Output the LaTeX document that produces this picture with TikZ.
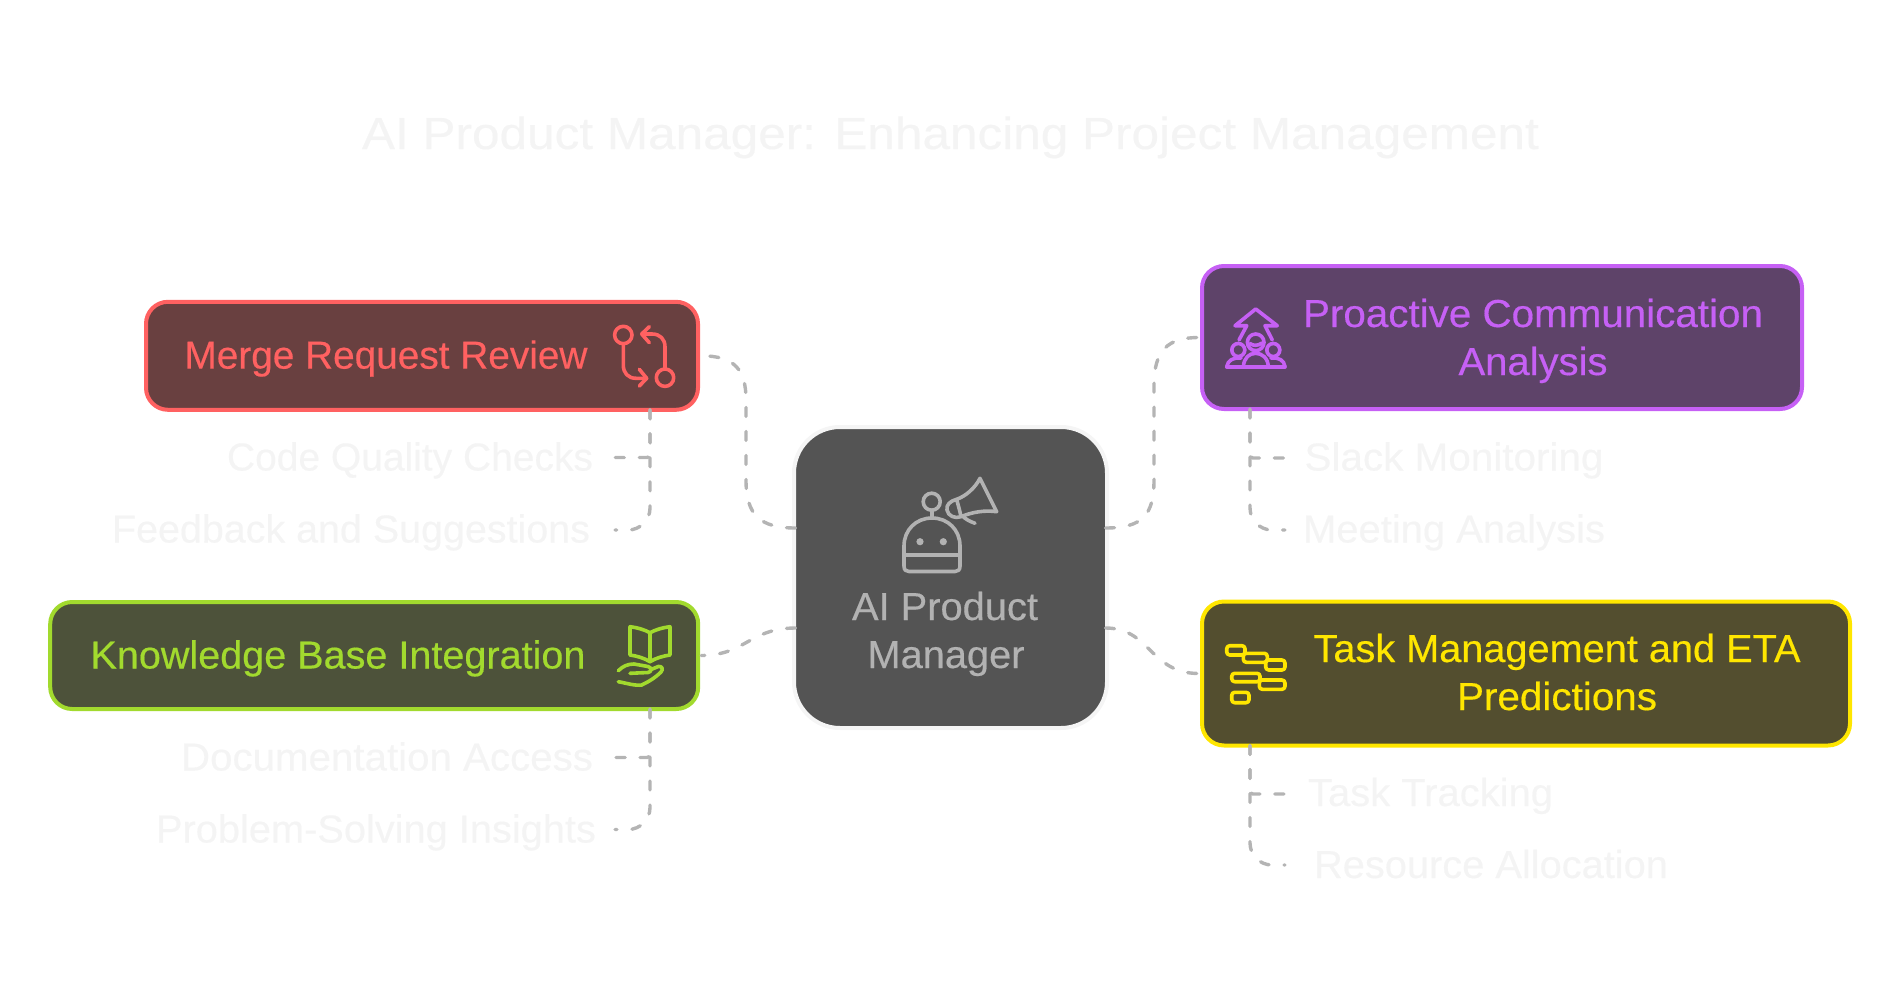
\documentclass[tikz,border=0pt]{standalone}
\usepackage{graphicx}
\usepackage{fontspec}
\setmainfont{Liberation Sans}[FakeBold=0.4]
\usetikzlibrary{calc}
\definecolor{ghost}{HTML}{F4F4F4}
\definecolor{connc}{HTML}{B4B4B4}
\definecolor{cfill}{HTML}{545454}
\definecolor{ctext}{HTML}{B2B2B2}
\definecolor{cedge}{HTML}{F5F5F5}
\definecolor{redE}{HTML}{FF6161}\definecolor{redF}{HTML}{694040}
\definecolor{purE}{HTML}{C660F5}\definecolor{purF}{HTML}{5E4369}
\definecolor{grnE}{HTML}{A2DA2E}\definecolor{grnF}{HTML}{4D523A}
\definecolor{yelE}{HTML}{FFE600}\definecolor{yelF}{HTML}{534E2F}
\newcommand\wtext[2]{\resizebox{#1pt}{\height}{#2}}
\tikzset{
  x=1pt,y=-1pt,
  every node/.style={inner sep=0pt,outer sep=0pt,font=\fontsize{39}{46}\selectfont},
  box/.style={rounded corners=22pt,line width=4pt,minimum height=1pt,minimum width=1pt},
  conn/.style={draw=connc,line width=3.4pt,dash pattern=on 9pt off 15pt,line cap=round},
  leafL/.style={anchor=base east,text=ghost},
  leafR/.style={anchor=base west,text=ghost},
  lbl/.style={anchor=base},
  icon/.style={line width=3.6pt,line cap=round,line join=round,fill=none},
}
\begin{document}
\begin{tikzpicture}
\useasboundingbox (0,0) rectangle (1900,988);
% title
\node[anchor=base,text=ghost,font=\fontsize{45}{52}\selectfont] (title) at (950.5,149) {\wtext{1177}{AI Product Manager: Enhancing Project Management}};
% main boxes
\node[box,draw=redE,fill=redF,minimum width=552pt,minimum height=108pt] (mr) at (422,355.8) {};
\node[box,draw=grnE,fill=grnF,minimum width=648pt,minimum height=107pt] (kb) at (374.2,655.5) {};
\node[box,draw=purE,fill=purF,minimum width=600pt,minimum height=143pt] (pc) at (1502,337.5) {};
\node[box,draw=yelE,fill=yelF,minimum width=648pt,minimum height=144pt] (tm) at (1526,673.5) {};
\node[box,draw=cedge,fill=cfill,rounded corners=46pt,minimum width=313pt,minimum height=301pt] (c) at (950.5,577.5) {};
\coordinate (cw1) at ([shift={(1.5pt,49.5pt)}]c.west);
\coordinate (ce1) at ([shift={(-1.5pt,49.5pt)}]c.east);
\coordinate (cw2) at ([shift={(1.5pt,-50.5pt)}]c.west);
\coordinate (ce2) at ([shift={(-1.5pt,-50.5pt)}]c.east);
% main connectors
\draw[conn] (cw1) .. controls (760,528) and (746,515) .. (746,480) -- (746,400) .. controls (746,370) and (735,355.8) .. ([xshift=3pt]mr.east);
\draw[conn] (ce1) .. controls +(37pt,0pt) and (1154,515) .. (1154,480) -- (1154,385) .. controls (1154,350) and (1168,337.5) .. ([xshift=-3pt]pc.west);
\draw[conn] (cw2) .. controls (750,628) and (745,655.5) .. ([xshift=3pt]kb.east);
\draw[conn] (ce2) .. controls +(45pt,0pt) and (1150,673.5) .. ([xshift=-3pt]tm.west);
% box labels
\node[lbl,text=redE] (mrt) at (386,368.6) {\wtext{403}{Merge Request Review}};
\node[lbl,text=grnE] (kbt) at (338,668.5) {\wtext{495}{Knowledge Base Integration}};
\node[lbl,text=purE] (pct1) at (1533,327) {\wtext{460}{Proactive Communication}};
\node[lbl,text=purE] (pct2) at (1533,375) {\wtext{149}{Analysis}};
\node[lbl,text=yelE] (tmt1) at (1557,662) {\wtext{487}{Task Management and ETA}};
\node[lbl,text=yelE] (tmt2) at (1557,710) {\wtext{200}{Predictions}};
\node[lbl,text=ctext] (ct1) at (945,620) {\wtext{186}{AI Product}};
\node[lbl,text=ctext] (ct2) at (946,668) {\wtext{157}{Manager}};
% leaves
\node[leafL] (l1) at (593,470.5) {\wtext{366}{Code Quality Checks}};
\node[leafL] (l2) at (590,542.5) {\wtext{478}{Feedback and Suggestions}};
\node[leafL] (l3) at (593,770.5) {\wtext{412}{Documentation Access}};
\node[leafL] (l4) at (596,842.5) {\wtext{440}{Problem-Solving Insights}};
\node[leafR] (r1) at (1304.5,470.5) {\wtext{299}{Slack Monitoring}};
\node[leafR] (r2) at (1303,542.5) {\wtext{302}{Meeting Analysis}};
\node[leafR] (r3) at (1308,806) {\wtext{245}{Task Tracking}};
\node[leafR] (r4) at (1314,878) {\wtext{354}{Resource Allocation}};
% connector free ends next to the leaf labels
\coordinate (l1e) at (615,457.5);
\coordinate (l2e) at (615,530);
\coordinate (l3e) at (615,757.5);
\coordinate (l4e) at (615,829.5);
\coordinate (r1e) at (1285,458);
\coordinate (r2e) at (1285,530);
\coordinate (r3e) at (1285,794);
\coordinate (r4e) at (1285,865);
% leaf connectors
\draw[conn,rounded corners=3pt] ([xshift=228pt]mr.south) |- (l1e);
\draw[conn,rounded corners=22pt] ([xshift=228pt]mr.south) |- (l2e);
\draw[conn,rounded corners=3pt] ([xshift=275.8pt]kb.south) |- (l3e);
\draw[conn,rounded corners=22pt] ([xshift=275.8pt]kb.south) |- (l4e);
\draw[conn,rounded corners=3pt] ([xshift=-252pt]pc.south) |- (r1e);
\draw[conn,rounded corners=22pt] ([xshift=-252pt]pc.south) |- (r2e);
\draw[conn,rounded corners=3pt] ([xshift=-276pt]tm.south) |- (r3e);
\draw[conn,rounded corners=22pt] ([xshift=-276pt]tm.south) |- (r4e);
% robot icon
\begin{scope}[icon,draw=ctext]
\draw (931.7,501.7) circle[radius=8.5];
\draw (931.7,510.2) -- (931.7,518);
\draw (904,546) .. controls (904,530) and (916,518) .. (932,518) .. controls (948,518) and (960,530) .. (960,546) -- (960,566) .. controls (960,570) and (958,571.5) .. (955,571.5) -- (909,571.5) .. controls (906,571.5) and (904,570) .. (904,566) -- cycle;
\draw (904,555) -- (960,555);
\fill[ctext] (920,541.7) circle[radius=3.6] (943.3,541.7) circle[radius=3.6];
\draw (956.7,499.3) .. controls (966,496) and (975,488) .. (980,478.3) -- (996.7,511.7) .. controls (985,510) and (972,512) .. (961,516.7) .. controls (955,519) and (948,516) .. (947,510) .. controls (946,505) and (950,501) .. (956.7,499.3) .. controls (958,505) and (960,511) .. (961,516.7);
\draw (962,515.5) .. controls (965,519) and (970,521.5) .. (975,523.3);
\end{scope}
% merge icon
\begin{scope}[icon,draw=redE]
\draw (623.3,335) circle[radius=8.7];
\draw (623.3,343.7) -- (623.3,365) .. controls (623.3,373) and (628,378.3) .. (636,378.3) -- (646.7,378.3);
\draw (639.3,369.3) -- (646.7,378.3) -- (639.3,386);
\draw (665,377.7) circle[radius=8.7];
\draw (665,369) -- (665,347) .. controls (665,339) and (660,334) .. (652,334) -- (641.7,334);
\draw (649.3,326.7) -- (641.7,334) -- (649.3,342.7);
\end{scope}
% book and hand icon
\begin{scope}[icon,draw=grnE]
\draw (650,632.7) .. controls (644,629.5) and (637,627.5) .. (630,626.7) -- (630,655) .. controls (637,656) and (644,658) .. (650,661.7) .. controls (656,658) and (663,656) .. (670,655) -- (670,626.7) .. controls (663,627.5) and (656,629.5) .. (650,632.7) -- (650,661.7);
\draw (618.3,670.7) .. controls (623,666) and (628,664) .. (634,664) -- (648,666.5) .. controls (652,667.5) and (652,672) .. (648,672.5) -- (630,673.3);
\draw (651,669.5) -- (658.3,666.5) .. controls (662,665.5) and (663.5,669.5) .. (661,672) .. controls (655,678) and (648,682) .. (641.7,685) .. controls (635,686) and (626,683) .. (618.3,681.7);
\end{scope}
% people and arrow icon
\begin{scope}[icon,draw=purE]
\draw (1239,340) -- (1246.7,325.7) -- (1235,325.7) -- (1255.7,309) -- (1277.3,325.7) -- (1265,325.7) -- (1272.3,340);
\draw (1255.7,342.3) circle[radius=8.3];
\draw (1250,343.5) .. controls (1253,346) and (1258,346) .. (1262,343);
\draw (1238.3,350) circle[radius=6.5];
\draw (1273.3,350) circle[radius=6.5];
\draw (1226.7,366.7) -- (1285,366.7);
\draw (1243.3,366.7) .. controls (1244,358) and (1249,353.3) .. (1255.7,353.3) .. controls (1262,353.3) and (1268,358) .. (1268.3,366.7);
\draw (1226.7,366.7) .. controls (1228,360) and (1233,357.5) .. (1241,358);
\draw (1285,366.7) .. controls (1284,360) and (1279,357.5) .. (1271,358);
\end{scope}
% gantt icon
\begin{scope}[icon,draw=yelE,rounded corners=3pt]
\draw (1226.7,645.7) rectangle (1245,655);
\draw (1243.3,653.3) rectangle (1267.3,662.3);
\draw (1265.7,660) rectangle (1285,670);
\draw (1231.7,673.3) rectangle (1260,681.7);
\draw (1259.3,680) rectangle (1285,689.3);
\draw (1231.7,692.3) rectangle (1249,702.7);
\end{scope}
\end{tikzpicture}
\end{document}
